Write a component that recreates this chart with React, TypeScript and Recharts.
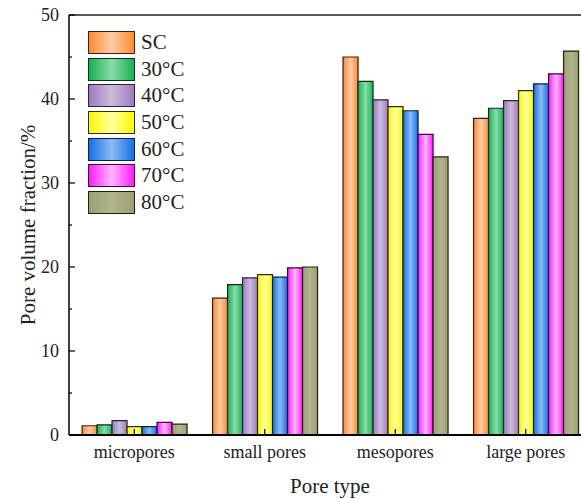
import React from 'react';
import { BarChart, Bar, XAxis, YAxis, ReferenceLine } from 'recharts';

const categories = ['micropores', 'small pores', 'mesopores', 'large pores'];
const seriesNames = ['SC', '30°C', '40°C', '50°C', '60°C', '70°C', '80°C'];
const SC = [1.1, 16.3, 45.0, 37.7];
const T30 = [1.2, 17.9, 42.1, 38.9];
const T40 = [1.7, 18.7, 39.9, 39.8];
const T50 = [1.0, 19.1, 39.1, 41.0];
const T60 = [1.0, 18.8, 38.6, 41.8];
const T70 = [1.5, 19.9, 35.8, 43.0];
const T80 = [1.3, 20.0, 33.1, 45.7];
const seriesValues = [SC, T30, T40, T50, T60, T70, T80];
const yTicks = [0, 5, 10, 15, 20, 25, 30, 35, 40, 45, 50];
const xTitle = 'Pore type';
const yTitle = 'Pore volume fraction/%';

const colors = [
  { edge: '#FF8A30', mid: '#FFCCA8', stroke: '#3a2010' },
  { edge: '#18B055', mid: '#88DCA8', stroke: '#0a3018' },
  { edge: '#9A7CBE', mid: '#CDBCDC', stroke: '#2a2040' },
  { edge: '#F8F800', mid: '#FFFFA0', stroke: '#303000' },
  { edge: '#1470E8', mid: '#8CBCF6', stroke: '#0a2040' },
  { edge: '#FF1CFF', mid: '#FFB8FF', stroke: '#400040' },
  { edge: '#9C9E74', mid: '#B2B68C', stroke: '#202010' },
];

const data = categories.map((c, i) => {
  const row: any = { name: c };
  seriesNames.forEach((s, j) => {
    row['s' + j] = seriesValues[j][i];
  });
  return row;
});

const FONT = '"Liberation Serif", "Times New Roman", serif';

const YTick = (props: any) => {
  const { x, y, payload } = props;
  const major = payload.value % 10 === 0;
  return (
    <g>
      <line x1={x} x2={x + (major ? 6 : 3)} y1={y} y2={y} stroke="#000" strokeWidth={1.2} />
      {major && (
        <text x={x - 10} y={y} textAnchor="end" dominantBaseline="central" fontFamily={FONT} fontSize={18} fill="#222">
          {payload.value}
        </text>
      )}
    </g>
  );
};

const XTick = (props: any) => {
  const { x, y, payload } = props;
  return (
    <g>
      <line x1={x} x2={x} y1={y} y2={y - 6} stroke="#000" strokeWidth={1.2} />
      <text x={x} y={y + 23} textAnchor="middle" fontFamily={FONT} fontSize={18} fill="#222">
        {payload.value}
      </text>
    </g>
  );
};

const LegendBox = () => (
  <div style={{ position: 'absolute', left: 88, top: 29, fontFamily: FONT }}>
    {seriesNames.map((s, j) => (
      <div key={s} style={{ display: 'flex', alignItems: 'center', height: 26.7 }}>
        <div
          style={{
            width: 47,
            height: 23,
            boxSizing: 'border-box',
            border: '1px solid ' + colors[j].stroke,
            background: `linear-gradient(to right, ${colors[j].edge}, ${colors[j].mid}, ${colors[j].edge})`,
          }}
        />
        <span style={{ marginLeft: 6, fontSize: 21, color: '#222', lineHeight: '23px' }}>{s}</span>
      </div>
    ))}
  </div>
);

export default function App() {
  return (
    <div style={{ position: 'fixed', left: 0, top: 0, width: 581, height: 499, overflow: 'hidden', background: '#fff' }}>
      <BarChart
        width={600}
        height={499}
        data={data}
        margin={{ top: 15, right: 9, bottom: 34, left: 9 }}
        barCategoryGap="10%"
        barGap={0}
      >
        <defs>
          {colors.map((c, j) => (
            <linearGradient key={j} id={'g' + j} x1="0" y1="0" x2="1" y2="0">
              <stop offset="0%" stopColor={c.edge} />
              <stop offset="50%" stopColor={c.mid} />
              <stop offset="100%" stopColor={c.edge} />
            </linearGradient>
          ))}
        </defs>
        <XAxis
          dataKey="name"
          height={30}
          tickSize={0}
          tickMargin={0}
          tick={<XTick />}
          axisLine={{ stroke: '#000', strokeWidth: 2 }}
          tickLine={false}
          interval={0}
        />
        <YAxis
          width={60}
          domain={[0, 50]}
          ticks={yTicks}
          interval={0}
          tickSize={0}
          tickMargin={0}
          tick={<YTick />}
          tickLine={false}
          axisLine={{ stroke: '#000', strokeWidth: 1.5 }}
          label={{
            value: yTitle,
            angle: -90,
            position: 'insideLeft',
            offset: 0,
            dx: 19,
            fontFamily: FONT,
            fontSize: 21,
            fill: '#222',
            style: { textAnchor: 'middle' },
          }}
        />
        <ReferenceLine y={50} stroke="#222" strokeWidth={1.5} />
        {seriesNames.map((s, j) => (
          <Bar
            key={s}
            dataKey={'s' + j}
            name={s}
            fill={`url(#g${j})`}
            stroke={colors[j].stroke}
            strokeWidth={1.2}
            isAnimationActive={false}
          />
        ))}
      </BarChart>
      <div
        style={{
          position: 'absolute',
          left: 230,
          width: 200,
          top: 473,
          height: 26,
          lineHeight: '26px',
          textAlign: 'center',
          fontFamily: FONT,
          fontSize: 21,
          color: '#222',
        }}
      >
        {xTitle}
      </div>
      <LegendBox />
    </div>
  );
}
